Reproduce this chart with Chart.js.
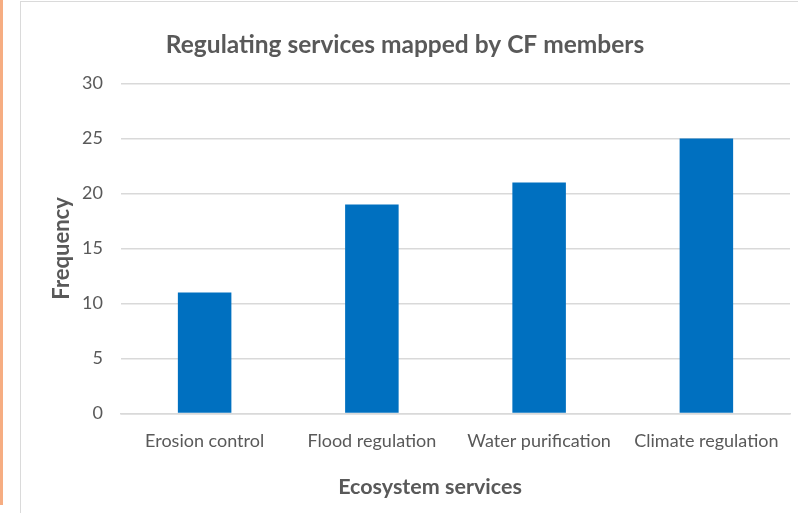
<!DOCTYPE html>
<html>
<head>
<meta charset="utf-8">
<script src="https://cdn.jsdelivr.net/npm/chart.js@4"></script>
<style>
    html, body { margin: 0; padding: 0; background: #fff; overflow: hidden; }
    #wrap { position: relative; width: 798px; height: 513px; }
    #strip { position: absolute; left: 0; top: 0; width: 3px; height: 505px; background: #F6AD82; }
    #frame { position: absolute; left: 20px; top: 1px; width: 820px; height: 600px; border-left: 1px solid #DADADA; border-top: 1px solid #DADADA; }
    canvas { position: absolute; left: 0; top: 0; }
</style>
</head>
<body>
<div id="wrap">
    <div id="strip"></div>
    <div id="frame"></div>
    <canvas id="chart" width="798" height="513"></canvas>
</div>
<script>
const services = ['Erosion control', 'Flood regulation', 'Water purification', 'Climate regulation'];
const frequency = [11, 19, 21, 25];

const textGrey = '#595959';
const fontName = 'Lato, "Open Sans", sans-serif';

// x axis caption sits a little left of the plot centre, so draw it by hand
const axisCaption = {
    id: 'axisCaption',
    afterDraw(chart) {
        const c = chart.ctx;
        c.save();
        c.font = `bold 21.5px ${fontName}`;
        c.fillStyle = textGrey;
        c.textAlign = 'center';
        c.textBaseline = 'middle';
        c.fillText('Ecosystem services', 430, 487);
        c.restore();
    },
};

const ctx = document.getElementById('chart').getContext('2d');
new Chart(ctx, {
    type: 'bar',
    data: {
        labels: services,
        datasets: [{
            data: frequency,
            backgroundColor: '#0070C0',
            categoryPercentage: 0.32,
            barPercentage: 1,
        }],
    },
    plugins: [axisCaption],
    options: {
        responsive: false,
        animation: false,
        layout: {
            padding: { left: 20, right: 8, top: 0, bottom: 52 },
        },
        plugins: {
            legend: { display: false },
            tooltip: { enabled: false },
            title: {
                display: true,
                text: 'Regulating services mapped by CF members',
                color: textGrey,
                font: { family: fontName, size: 24.5, weight: 'bold' },
                padding: { top: 30, bottom: 24 },
            },
        },
        scales: {
            x: {
                grid: { display: false },
                border: { color: '#D9D9D9', width: 1.5 },
                ticks: {
                    color: textGrey,
                    font: { family: fontName, size: 18 },
                    padding: 9,
                    maxRotation: 0,
                },
            },
            y: {
                min: 0,
                max: 30,
                ticks: {
                    stepSize: 5,
                    color: textGrey,
                    font: { family: fontName, size: 18 },
                    padding: 18,
                },
                grid: {
                    color: '#D9D9D9',
                    lineWidth: 1.5,
                    drawTicks: false,
                },
                border: { display: false },
                title: {
                    display: true,
                    text: 'Frequency',
                    color: textGrey,
                    font: { family: fontName, size: 22, weight: 'bold' },
                    padding: { top: 29, bottom: 0 },
                },
                afterFit: (scale) => { scale.width = 101; },
            },
        },
    },
});
</script>
</body>
</html>
